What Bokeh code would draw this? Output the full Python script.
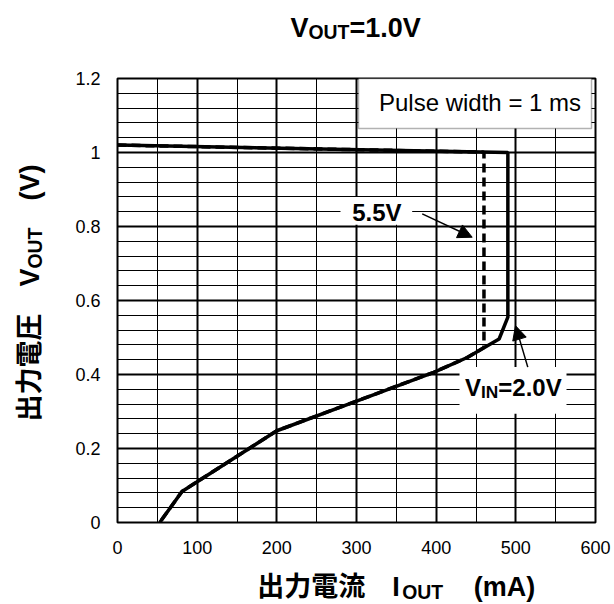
import math
from bokeh.plotting import figure
from bokeh.layouts import column, row
from bokeh.models import (Range1d, FixedTicker, Label, BoxAnnotation, Arrow,
                          NormalHead, CustomJSTickFormatter)
from bokeh.embed import file_html
from bokeh.resources import INLINE

# ---- data ----
vin20_iout = [0, 490, 490, 490, 479, 439, 397, 301, 200, 81, 53]
vin20_vout = [1.02, 1.0, 0.90, 0.555, 0.496, 0.446, 0.406, 0.329, 0.248, 0.084, 0.0]

vin55_iout = [0, 460, 460, 460, 439, 397, 301, 200, 81, 53]
vin55_vout = [1.02, 1.001, 0.90, 0.473, 0.446, 0.406, 0.329, 0.248, 0.084, 0.0]

x_ticks = [0, 100, 200, 300, 400, 500, 600]
x_minor = [50, 150, 250, 350, 450, 550]
y_ticks = [0, 0.2, 0.4, 0.6, 0.8, 1, 1.2]
y_minor = [round(0.04 * k, 2) for k in range(31) if k % 5 != 0]

LAT = "Liberation Sans"
CJK = "Noto Sans CJK JP"
# half of (ascent - descent) in em: distance from text middle to baseline
MID = {LAT: 0.3465, CJK: 0.436}

BW = {'V': .667, 'O': .778, 'U': .722, 'T': .611, '=': .584, '1': .556, '.': .278,
      '0': .556, '2': .556, '5': .556, 'I': .278, 'N': .722, '(': .333, ')': .333,
      'm': .889, 'A': .722, ' ': .278}


def tw(s, size):
    return sum(BW[c] for c in s) * size


def rich(fig, x, y, pieces, angle=0.0, bold=True):
    """pieces: (text, size, font, down_shift, advance_px); (x, y) is the baseline start"""
    off = 0.0
    for text, size, font, dn, adv in pieces:
        up = MID[font] * size - dn  # lift the text so its baseline sits on (x, y)
        if angle == 0:
            lab = Label(x=x, y=y, x_offset=off, y_offset=up, text=text)
        else:
            lab = Label(x=x, y=y, x_offset=-up, y_offset=off, angle=angle, text=text)
        lab.text_font = font
        lab.text_font_size = f"{size}px"
        lab.text_font_style = "bold" if bold else "normal"
        lab.text_color = "black"
        lab.text_align = "left"
        lab.text_baseline = "middle"
        fig.add_layout(lab)
        off += adv


def blank(w, h, x0, x1, y0, y1):
    f = figure(width=w, height=h, output_backend="svg", toolbar_location=None,
               x_range=Range1d(x0, x1), y_range=Range1d(y0, y1),
               x_axis_location=None, y_axis_location=None, title=None)
    f.min_border = 0
    f.min_border_left = 0
    f.min_border_right = 0
    f.min_border_top = 0
    f.min_border_bottom = 0
    f.xgrid.visible = False
    f.ygrid.visible = False
    f.outline_line_color = None
    f.background_fill_color = "white"
    f.border_fill_color = "white"
    return f


F = 27
S = round(F * 0.72, 1)

# ---- title strip (page y 0..55) ----
t = blank(614, 55, 0, 614, 55, 0)
rich(t, 290, 36.7, [
    ("V", F, LAT, 0, tw("V", F)),
    ("OUT", S, LAT, 2, tw("OUT", S)),
    ("=1.0V", F, LAT, 0, tw("=1.0V", F)),
])

# ---- y axis title strip (page x 0..50, y 55..565) ----
yl = blank(50, 510, 0, 50, 565, 55)
rich(yl, 39, 449, [
    ("出力電圧", F, CJK, 0, 135),
    ("V", F, LAT, 0, tw("V", F)),
    ("OUT", S, LAT, 2, tw("OUT", S) + 27),
    ("(V)", F, LAT, 0, tw("(V)", F)),
], angle=math.pi / 2)

# ---- x axis title strip (page y 565..604) ----
xl = blank(614, 39, 0, 614, 604, 565)
rich(xl, 256.7, 596, [
    ("出力電流", F, CJK, 0, 135),
    ("I", F, LAT, 0, 10),
    ("OUT", S, LAT, 2, 71.6),
    ("(mA)", F, LAT, 0, tw("(mA)", F)),
])

# ---- main chart (page x 50..614, y 55..565) ----
p = figure(width=564, height=510, output_backend="svg", toolbar_location=None,
           x_range=Range1d(0, 600), y_range=Range1d(0, 1.2), title=None)
p.min_border_left = 67
p.min_border_right = 19
p.min_border_top = 23
p.min_border_bottom = 43
p.outline_line_color = "black"
p.outline_line_width = 2
p.background_fill_color = "white"
p.border_fill_color = "white"

xt = FixedTicker(ticks=x_ticks, minor_ticks=x_minor)
yt = FixedTicker(ticks=y_ticks, minor_ticks=y_minor)
p.xaxis.ticker = xt
p.yaxis.ticker = yt
p.xgrid.ticker = xt
p.ygrid.ticker = yt
for g in (p.xgrid, p.ygrid):
    g.grid_line_color = "black"
    g.grid_line_width = 2
    g.minor_grid_line_color = "black"
    g.minor_grid_line_width = 1

fmt = CustomJSTickFormatter(code="return tick.toString();")
for ax in (p.xaxis, p.yaxis):
    ax.axis_line_color = None
    ax.major_tick_line_color = None
    ax.minor_tick_line_color = None
    ax.major_tick_out = 0
    ax.major_tick_in = 0
    ax.minor_tick_out = 0
    ax.major_label_text_font = LAT
    ax.major_label_text_font_size = "18px"
    ax.major_label_text_color = "black"
    ax.formatter = fmt
p.xaxis.major_label_standoff = 18
p.yaxis.major_label_standoff = 17

# curves
p.line(vin55_iout, vin55_vout, line_color="black", line_width=3.5, line_dash="9 5")
p.line(vin20_iout, vin20_vout, line_color="black", line_width=3.5)

# "Pulse width" box
p.add_layout(BoxAnnotation(left=302.5, right=595, bottom=1.065, top=1.2,
                           fill_color="white", fill_alpha=1.0,
                           line_color="black", line_width=1.5))
pw_text = "Pulse width = 1 ms"
rich(p, 302.5 + 20.5 / 0.7967, 1.1135, [(pw_text, 24, LAT, 0, 0)], bold=False)

# 5.5V annotation
p.add_layout(BoxAnnotation(left=279.9, right=369.9, bottom=0.805, top=0.880,
                           fill_color="white", fill_alpha=1.0, line_color=None))
rich(p, 294.6, 0.816, [("5.5V", 24, LAT, 0, tw("5.5V", 24))])
p.add_layout(Arrow(x_start=382.5, y_start=0.834, x_end=445.2, y_end=0.771,
                   line_color="black", line_width=1.5,
                   end=NormalHead(size=14, fill_color="black", line_color="black")))

# VIN=2.0V annotation
p.add_layout(BoxAnnotation(left=429.3, right=563.6, bottom=0.294, top=0.420,
                           fill_color="white", fill_alpha=1.0, line_color=None))
S2 = round(24 * 0.72, 1)
rich(p, 436.2, 0.343, [
    ("V", 24, LAT, 0, tw("V", 24)),
    ("IN", S2, LAT, 2, tw("IN", S2)),
    ("=2.0V", 24, LAT, 0, tw("=2.0V", 24)),
])
p.add_layout(Arrow(x_start=515.0, y_start=0.420, x_end=499.6, y_end=0.532,
                   line_color="black", line_width=1.5,
                   end=NormalHead(size=14, fill_color="black", line_color="black")))

layout = column(t, row(yl, p), xl)
open("out.html", "w").write(file_html(layout, INLINE))
